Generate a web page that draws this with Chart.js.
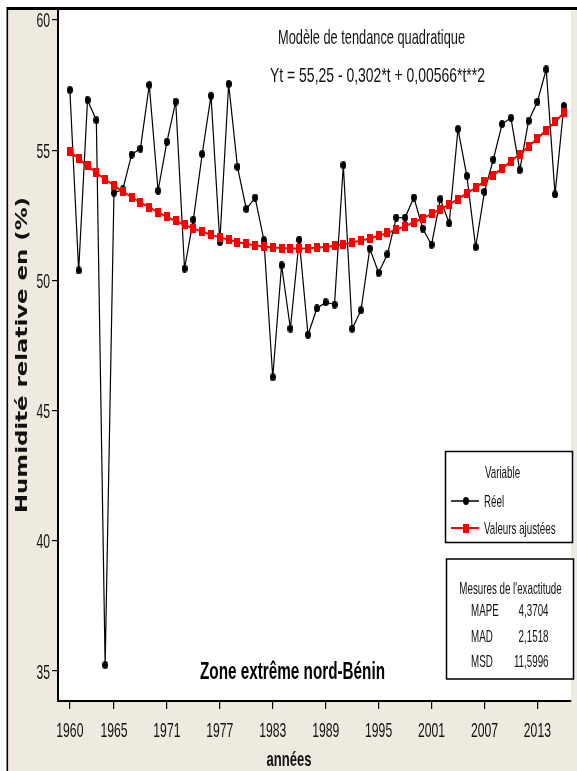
<!DOCTYPE html>
<html>
<head>
<meta charset="utf-8">
<title>Humidité relative - Zone extrême nord-Bénin</title>
<script src="https://cdn.jsdelivr.net/npm/chart.js@4.4.1/dist/chart.umd.min.js"></script>
<style>
    html, body { margin: 0; padding: 0; background: #ffffff; }
    canvas { display: block; }
</style>
</head>
<body>
<canvas id="humidityChart" width="577" height="771"></canvas>
<script>
// Humidité relative annuelle (%) et tendance quadratique, 1960-2016

const years = [
    1960, 1961, 1962, 1963, 1964, 1965, 1966, 1967, 1968, 1969,
    1970, 1971, 1972, 1973, 1974, 1975, 1976, 1977, 1978, 1979,
    1980, 1981, 1982, 1983, 1984, 1985, 1986, 1987, 1988, 1989,
    1990, 1991, 1992, 1993, 1994, 1995, 1996, 1997, 1998, 1999,
    2000, 2001, 2002, 2003, 2004, 2005, 2006, 2007, 2008, 2009,
    2010, 2011, 2012, 2013, 2014, 2015, 2016
];

// Réel
const reel = [
    57.31, 50.38, 56.92, 56.15, 35.23, 53.36, 53.49, 54.83, 55.06, 57.50,
    53.44, 55.32, 56.86, 50.45, 52.33, 54.85, 57.09, 51.47, 57.54, 54.36,
    52.74, 53.18, 51.54, 46.28, 50.58, 48.15, 51.56, 47.91, 48.92, 49.16,
    49.07, 54.42, 48.14, 48.85, 51.22, 50.29, 51.00, 52.41, 52.41, 53.18,
    51.99, 51.37, 53.12, 52.19, 55.81, 54.01, 51.28, 53.40, 54.64, 56.00,
    56.24, 54.23, 56.12, 56.86, 58.10, 53.30, 56.69
];

// Valeurs ajustées
const ajustees = [
    54.95, 54.67, 54.40, 54.13, 53.88, 53.64, 53.41, 53.20, 52.99, 52.80,
    52.61, 52.44, 52.28, 52.13, 51.99, 51.87, 51.75, 51.65, 51.56, 51.47,
    51.40, 51.35, 51.30, 51.26, 51.24, 51.22, 51.22, 51.23, 51.25, 51.28,
    51.33, 51.38, 51.45, 51.53, 51.61, 51.71, 51.82, 51.95, 52.08, 52.23,
    52.38, 52.55, 52.73, 52.92, 53.12, 53.34, 53.56, 53.80, 54.04, 54.30,
    54.57, 54.85, 55.14, 55.45, 55.76, 56.09, 56.43
];

const xTickYears = [1960, 1965, 1971, 1977, 1983, 1989, 1995, 2001, 2007, 2013];
const yTickValues = [35, 40, 45, 50, 55, 60];

const accuracyLabels = ['MAPE', 'MAD', 'MSD'];
const accuracyValues = ['4,3704', '2,1518', '11,5996'];

const BEIGE = '#EEEAE0';
const SANS = "'Liberation Sans', Arial, sans-serif";
const SQUEEZE = 0.58; // the original picture is stretched vertically

// small canvases used as point styles
function makeMarker(w, h, color, shape) {
    const c = document.createElement('canvas');
    c.width = w;
    c.height = h;
    const g = c.getContext('2d');
    g.fillStyle = color;
    if (shape === 'ellipse') {
        g.beginPath();
        g.ellipse(w / 2, h / 2, w / 2, h / 2, 0, 0, Math.PI * 2);
        g.fill();
    } else {
        g.fillRect(0, 0, w, h);
    }
    return c;
}

const dotMarker = makeMarker(6, 8, '#000000', 'ellipse');
const squareMarker = makeMarker(6, 9, '#ff0000', 'rect');

// draw text squeezed horizontally; width (if given) fixes the final width
function drawText(ctx, str, x, y, opts) {
    ctx.save();
    ctx.font = opts.font;
    ctx.fillStyle = opts.color || '#111111';
    ctx.textBaseline = 'alphabetic';
    ctx.textAlign = opts.align || 'left';
    let sx = opts.sx || SQUEEZE;
    if (opts.width) {
        sx = opts.width / ctx.measureText(str).width;
    }
    ctx.translate(x, y);
    if (opts.rotate) ctx.rotate(opts.rotate);
    ctx.scale(sx, 1);
    ctx.fillText(str, 0, 0);
    ctx.restore();
}

const framePlugin = {
    id: 'frame',
    beforeDraw(chart) {
        const { ctx, chartArea: a, width, height } = chart;
        ctx.save();
        ctx.fillStyle = '#ffffff';
        ctx.fillRect(0, 0, width, height);
        ctx.fillStyle = BEIGE;
        ctx.fillRect(7, 8, width - 7, height - 8);
        ctx.fillStyle = '#ffffff';
        ctx.fillRect(a.left, a.top, a.right - a.left, a.bottom - a.top);
        ctx.fillStyle = '#000000';
        ctx.fillRect(7, 7, width - 7, 3);      // top rule
        ctx.fillRect(6.5, 7, 1.6, height - 7); // left rule
        ctx.restore();
    },
    afterDraw(chart) {
        const ctx = chart.ctx;
        const xs = chart.scales.x;
        const ys = chart.scales.y;

        // tick labels
        xs.ticks.forEach(t => {
            drawText(ctx, String(t.value), xs.getPixelForValue(t.value), 737,
                { font: '21px ' + SANS, align: 'center' });
        });
        ys.ticks.forEach(t => {
            drawText(ctx, String(t.value), 50, ys.getPixelForValue(t.value) + 7.5,
                { font: '21px ' + SANS, align: 'right' });
        });

        // axis titles
        drawText(ctx, 'années', 289, 766,
            { font: 'bold 21px ' + SANS, align: 'center', width: 45 });
        drawText(ctx, 'Humidité relative en (%)', 27, 355,
            { font: "bold 15px 'DejaVu Sans', Verdana, sans-serif", align: 'center',
              width: 316, rotate: -Math.PI / 2 });

        // model annotation
        drawText(ctx, 'Modèle de tendance quadratique', 371.5, 43.5,
            { font: '21px ' + SANS, align: 'center', width: 187 });
        drawText(ctx, 'Yt = 55,25 - 0,302*t + 0,00566*t**2', 377.5, 82,
            { font: '21px ' + SANS, align: 'center', width: 215 });
        drawText(ctx, 'Zone extrême nord-Bénin', 292.5, 679,
            { font: 'bold 23px ' + SANS, align: 'center', width: 185, color: '#000000' });

        // legend box
        ctx.save();
        ctx.fillStyle = '#ffffff';
        ctx.strokeStyle = '#000000';
        ctx.lineWidth = 1.5;
        ctx.fillRect(445.5, 451.5, 127, 91);
        ctx.strokeRect(445.5, 451.5, 127, 91);
        ctx.fillRect(446.5, 559, 127, 120);
        ctx.strokeRect(446.5, 559, 127, 120);

        ctx.lineWidth = 1.5;
        ctx.beginPath();
        ctx.moveTo(451, 501);
        ctx.lineTo(479, 501);
        ctx.stroke();
        ctx.drawImage(dotMarker, 466 - dotMarker.width / 2, 501 - dotMarker.height / 2);

        ctx.strokeStyle = '#ff0000';
        ctx.lineWidth = 2;
        ctx.beginPath();
        ctx.moveTo(451, 528);
        ctx.lineTo(479, 528);
        ctx.stroke();
        ctx.drawImage(squareMarker, 466 - squareMarker.width / 2, 528 - squareMarker.height / 2);
        ctx.restore();

        const lf = '17px ' + SANS;
        drawText(ctx, 'Variable', 502.5, 478, { font: lf, align: 'center', sx: 0.575 });
        drawText(ctx, 'Réel', 484, 507, { font: lf, sx: 0.575 });
        drawText(ctx, 'Valeurs ajustées', 484, 534, { font: lf, sx: 0.575 });

        drawText(ctx, "Mesures de l'exactitude", 510.5, 594, { font: lf, align: 'center', sx: 0.575 });
        const rowY = [615.5, 641.5, 667];
        accuracyLabels.forEach((lab, i) => {
            drawText(ctx, lab, 471, rowY[i], { font: lf, sx: 0.575 });
            drawText(ctx, accuracyValues[i], 548.5, rowY[i], { font: lf, align: 'right', sx: 0.575 });
        });
    }
};

const ctx = document.getElementById('humidityChart').getContext('2d');

new Chart(ctx, {
    type: 'line',
    data: {
        datasets: [{
            label: 'Réel',
            data: years.map((yr, i) => ({ x: yr, y: reel[i] })),
            borderColor: '#000000',
            borderWidth: 1.2,
            pointStyle: dotMarker,
            pointRadius: 4,
            tension: 0,
            order: 2
        }, {
            label: 'Valeurs ajustées',
            data: years.map((yr, i) => ({ x: yr, y: ajustees[i] })),
            borderColor: '#ff0000',
            borderWidth: 2,
            pointStyle: squareMarker,
            pointRadius: 4,
            tension: 0,
            order: 1
        }]
    },
    options: {
        responsive: false,
        animation: false,
        layout: {
            padding: { top: 10, left: 0, right: 0, bottom: 0 }
        },
        plugins: {
            legend: { display: false },
            tooltip: { enabled: false }
        },
        scales: {
            x: {
                type: 'linear',
                min: 1958.655,
                max: 2016.81,
                afterBuildTicks: scale => {
                    scale.ticks = xTickYears.map(v => ({ value: v }));
                },
                afterFit: scale => {
                    scale.height = 70;
                },
                ticks: { display: false },
                grid: {
                    drawOnChartArea: false,
                    drawTicks: true,
                    tickLength: 8,
                    color: '#000000',
                    lineWidth: 1.2
                },
                border: { display: true, color: '#000000', width: 2 }
            },
            y: {
                type: 'linear',
                min: 33.85,
                max: 60.38,
                afterBuildTicks: scale => {
                    scale.ticks = yTickValues.map(v => ({ value: v }));
                },
                afterFit: scale => {
                    scale.width = 58;
                },
                ticks: { display: false },
                grid: {
                    drawOnChartArea: false,
                    drawTicks: true,
                    tickLength: 6,
                    color: '#000000',
                    lineWidth: 1.2
                },
                border: { display: true, color: '#000000', width: 2 }
            }
        }
    },
    plugins: [framePlugin]
});
</script>
</body>
</html>
